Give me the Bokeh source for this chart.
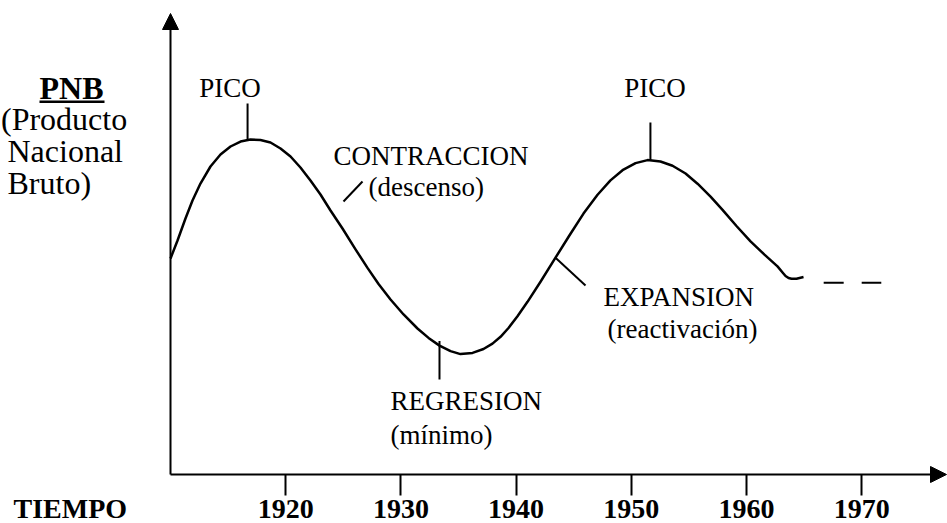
from bokeh.plotting import figure
from bokeh.models import Range1d, LinearAxis, FixedTicker, Label, Arrow, NormalHead
from bokeh.embed import file_html
from bokeh.resources import INLINE

# ---------------- data ----------------
years = [1910.00, 1910.61, 1911.30, 1911.91, 1912.60, 1913.47, 1914.34, 1915.21, 1916.08, 1916.94,
         1917.81, 1918.68, 1919.55, 1920.42, 1921.28, 1922.15, 1923.02, 1923.89, 1924.93, 1926.06,
         1927.10, 1928.06, 1929.10, 1930.23, 1931.44, 1932.40, 1933.35, 1934.31, 1935.17, 1936.22,
         1937.17, 1937.95, 1938.65, 1939.34, 1940.12, 1940.99, 1942.12, 1943.42, 1944.64, 1945.85,
         1947.07, 1948.19, 1949.24, 1950.37, 1951.41, 1952.53, 1953.58, 1954.71, 1955.75, 1956.88,
         1957.92, 1959.13, 1960.35, 1961.56, 1962.69, 1963.13, 1963.39, 1963.65, 1963.91, 1964.34,
         1964.95]
pnb = [46.85, 50.76, 55.53, 59.44, 63.12, 66.81, 69.41, 71.15, 72.23, 72.67,
       72.56, 72.02, 70.72, 68.98, 66.59, 63.77, 60.74, 57.27, 53.36, 48.85,
       44.82, 41.34, 37.96, 34.71, 31.67, 29.63, 27.96, 26.77, 26.12, 26.38,
       27.22, 28.39, 29.87, 31.78, 34.32, 37.46, 41.82, 47.03, 51.89, 56.59,
       60.69, 63.80, 66.01, 67.55, 68.20, 67.90, 66.98, 65.29, 63.08, 60.26,
       57.40, 53.90, 50.56, 47.68, 45.14, 43.82, 43.06, 42.62, 42.45, 42.45,
       42.84]
proj_years = [1966.7, 1971.7]
proj_pnb = [41.6, 41.6]
tick_years = [1920, 1930, 1940, 1950, 1960, 1970]
tick_labels = ["1920", "1930", "1940", "1950", "1960", "1970"]

# ---------------- layout ----------------
W, H = 947, 523
PX_PER_YEAR = 11.52
PX_PER_UNIT = 4.61
X0 = 1910 - 170 / PX_PER_YEAR
X1 = X0 + W / PX_PER_YEAR
Y0 = -(H - 474) / PX_PER_UNIT
Y1 = Y0 + H / PX_PER_UNIT


def X(px):  # canvas pixel -> data x (annotation placement)
    return 1910 + (px - 170) / PX_PER_YEAR


def Y(py):  # canvas pixel -> data y (annotation placement)
    return (474 - py) / PX_PER_UNIT


SERIF = "Liberation Serif"
TEXT_SHIFT = 10  # compensation for label baseline placement

p = figure(width=W, height=H, output_backend="svg", toolbar_location=None,
           x_range=Range1d(X0, X1), y_range=Range1d(Y0, Y1),
           x_axis_location=None, y_axis_location=None, min_border=0,
           outline_line_color=None, background_fill_color="white",
           border_fill_color="white")
p.grid.visible = False

# x axis tick labels (fixed at value 0)
xaxis = LinearAxis(fixed_location=0, ticker=FixedTicker(ticks=tick_years),
                   axis_line_color=None, major_tick_out=21, major_tick_in=0,
                   major_tick_line_width=2, major_tick_line_color="black",
                   minor_tick_line_color=None, major_label_standoff=4,
                   major_label_text_font=SERIF, major_label_text_font_size="28px",
                   major_label_text_font_style="bold", major_label_text_color="black",
                   major_label_overrides={t: l for t, l in zip(tick_years, tick_labels)})
p.add_layout(xaxis, "below")

# axes with arrows
p.add_layout(Arrow(end=NormalHead(size=16, fill_color="black", line_color="black"),
                   x_start=1910, y_start=0, x_end=1910, y_end=Y(13),
                   line_width=2, line_color="black"))
p.add_layout(Arrow(end=NormalHead(size=16, fill_color="black", line_color="black"),
                   x_start=1910, y_start=0, x_end=X(946), y_end=0,
                   line_width=2, line_color="black"))

# curve and projection
p.line(years, pnb, line_width=2.5, line_color="black", line_join="round")
p.line(proj_years, proj_pnb, line_width=2, line_color="black", line_dash="20 18")

# leader lines
half = len(years) // 2
i1 = max(range(0, half), key=lambda i: pnb[i])
i2 = max(range(half, len(years)), key=lambda i: pnb[i])
ireg = 26
iexp = 37
p.segment(x0=[years[i1] - 0.25, years[i2] + 0.25, years[ireg], X(343), years[iexp]],
          y0=[pnb[i1], pnb[i2], pnb[ireg] + 1.0, Y(201), pnb[iexp]],
          x1=[years[i1] - 0.25, years[i2] + 0.25, years[ireg], X(362), X(585)],
          y1=[Y(103), Y(122), Y(379), Y(181), Y(285)],
          line_width=2, line_color="black")

# underline for PNB
p.segment(x0=[X(39)], y0=[Y(101.3)], x1=[X(104)], y1=[Y(101.3)],
          line_width=2.5, line_color="black")


def lab(text, px, py, size="27px", align="left", style="normal"):
    p.add_layout(Label(x=X(px), y=Y(py - TEXT_SHIFT), text=text, text_font=SERIF,
                       text_font_size=size, text_align=align,
                       text_baseline="alphabetic", text_font_style=style,
                       text_color="black"))


lab("PICO", 229.5, 97, align="center")
lab("PICO", 654.5, 97, align="center")
lab("CONTRACCION", 333, 165)
lab("(descenso)", 368, 196)
lab("REGRESION", 390, 410)
lab("(mínimo)", 390, 444)
lab("EXPANSION", 603, 306)
lab("(reactivación)", 607, 338)
lab("PNB", 71, 97, size="32px", align="center", style="bold")
lab("(Producto", 0.5, 128, size="32px")
lab("Nacional", 7, 160, size="32px")
lab("Bruto)", 7, 192, size="32px")
lab("TIEMPO", 13, 518, size="28px", style="bold")

open("out.html", "w").write(file_html(p, INLINE))
